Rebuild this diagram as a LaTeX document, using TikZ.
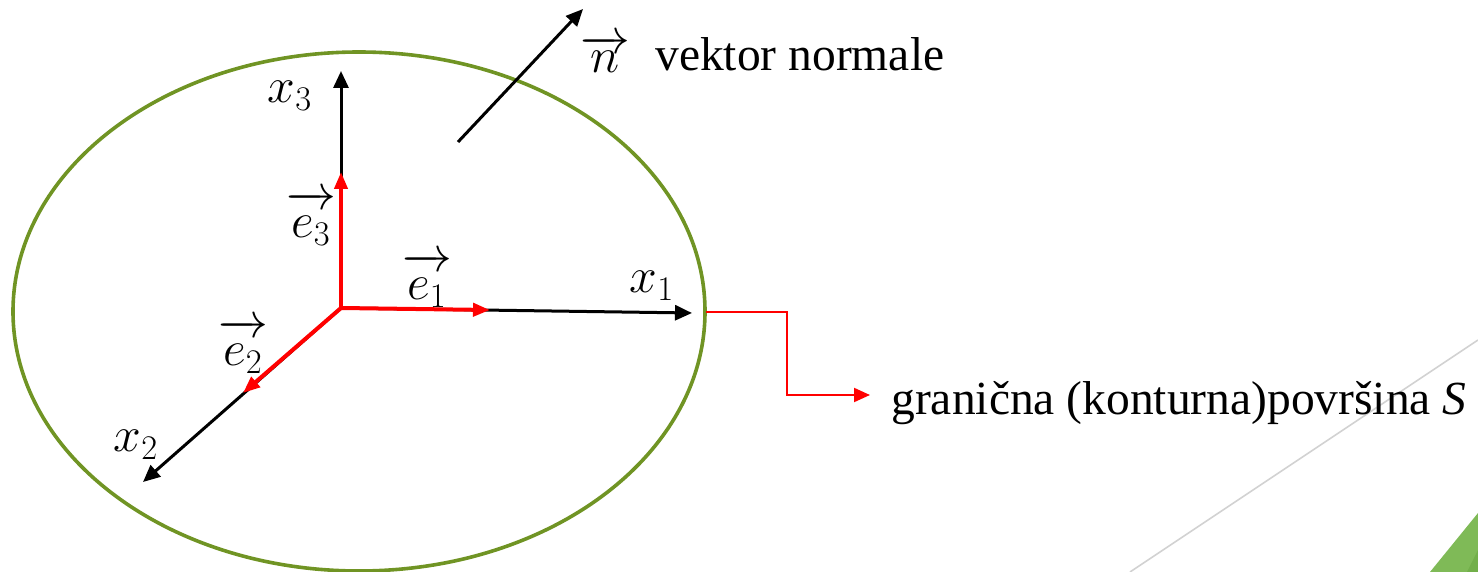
\documentclass[tikz,border=0pt]{standalone}
\usepackage{fontspec}
\setmainfont{Liberation Serif}
\usetikzlibrary{arrows.meta}
\definecolor{olive}{RGB}{112,148,36}
\definecolor{accgreen}{RGB}{127,186,87}
\definecolor{accgreend}{RGB}{114,175,74}
\definecolor{arrred}{RGB}{255,0,0}
\definecolor{lgray}{RGB}{210,210,210}
\newcommand{\uvec}[1]{\overrightarrow{\vphantom{t}#1}}
\tikzset{
  axis/.style={line width=1.5pt,-{Triangle[length=8.5pt,width=7.5pt]}},
  unitvec/.style={line width=2pt,arrred,-{Triangle[length=8.5pt,width=6.5pt]}},
  lbl/.style={inner sep=0pt,font=\fontsize{26}{30}\selectfont},
  txt/.style={inner sep=0pt,anchor=base west,font=\fontsize{23.75}{28}\selectfont},
  surface/.style={draw=olive,line width=1.8pt},
  leader/.style={arrred,line width=1pt,-{Triangle[length=8pt,width=7pt]}}
}
\begin{document}
\begin{tikzpicture}[x=0.5pt,y=-0.5pt]
\useasboundingbox (0,0) rectangle (1478,572);
% decorative background
\draw[lgray,line width=0.8pt] (1130,572) -- (1478,340);
\fill[accgreen] (1430,572) -- (1478,513) -- (1478,572) -- cycle;
\fill[accgreend] (1467,572) -- (1478,550) -- (1478,572) -- cycle;
% surface S
\draw[surface] (359,311.5) ellipse [x radius=346, y radius=259.5];
% coordinates
\coordinate (O) at (341,308);
\coordinate (e1t) at (490,310);
\coordinate (x1t) at (692,313);
\coordinate (e3t) at (341,172);
\coordinate (x3t) at (341,71);
\coordinate (e2t) at (243,393);
\coordinate (x2t) at (143,482);
\coordinate (ns) at (458,142);
\coordinate (nt) at (583,9);
\coordinate (sr) at (706,312.5);
\coordinate (bend1) at (787,312.5);
\coordinate (bend2) at (787,395);
\coordinate (lt) at (870,395);
% axes
\draw[axis] (O) -- (x1t);
\draw[axis] (O) -- (x3t);
\draw[axis] (O) -- (x2t);
% unit vectors
\draw[unitvec] (O) -- (e1t);
\draw[unitvec] (O) -- (e3t);
\draw[unitvec] (O) -- (e2t);
% normal
\draw[axis] (ns) -- (nt);
% labels
\node[lbl] (lx3) at (290,96) {$x_3$};
\node[lbl] (lx1) at (652,286) {$x_1$};
\node[lbl] (lx2) at (136,445) {$x_2$};
\node[lbl] (le3) at (311,218) {$\uvec{e_3}$};
\node[lbl] (le1) at (427,280) {$\uvec{e_1}$};
\node[lbl] (le2) at (243,346) {$\uvec{e_2}$};
\node[lbl] (ln) at (605,54) {$\overrightarrow{n}$};
\node[txt] (tn) at (655,71) {vektor normale};
\node[txt] (ts) at (891,415) {granična (konturna)površina \textit{S}};
% leader to surface label
\draw[leader] (sr) -- (bend1) -- (bend2) -- (lt);
\end{tikzpicture}
\end{document}
